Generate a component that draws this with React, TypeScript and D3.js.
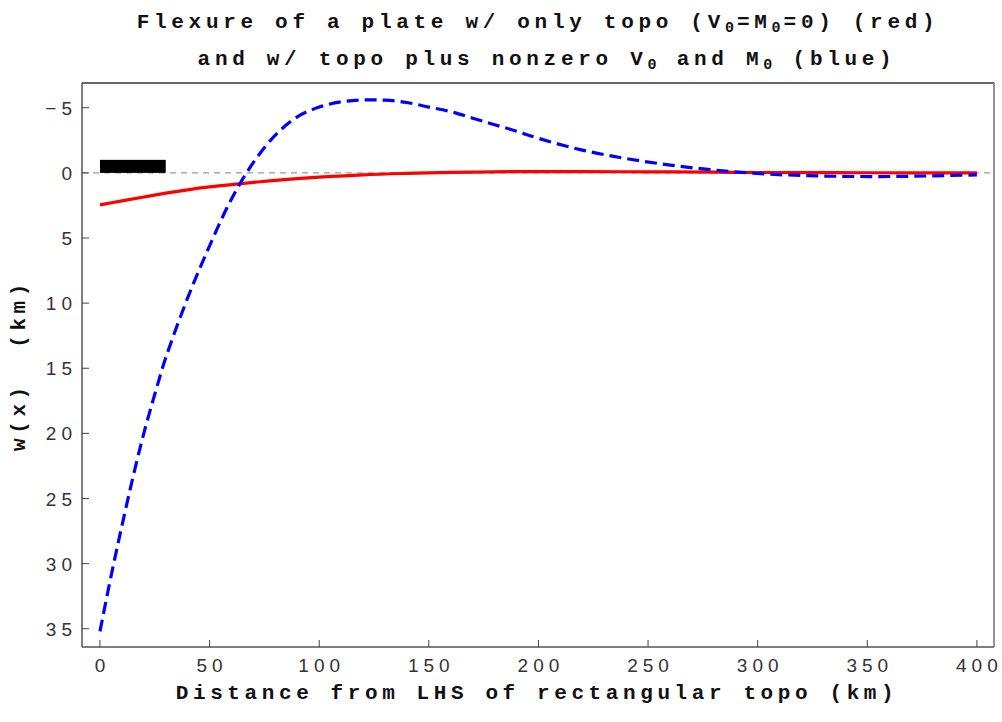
import React from 'react';
import * as d3 from 'd3';

// distance from LHS of the topo load (km)
const redX = [0, 10, 20, 30, 40, 50, 60, 70, 80, 90, 100, 120, 140, 160, 180, 200, 220, 250, 280, 300, 350, 400];
// flexure with topo only, V0 = M0 = 0 (km, positive = down)
const redW = [2.46, 2.15, 1.85, 1.56, 1.3, 1.08, 0.9, 0.73, 0.57, 0.44, 0.33, 0.15, 0.04, -0.04, -0.08, -0.1, -0.1, -0.08, -0.05, -0.03, -0.01, 0];

const blueX = [0, 5, 10, 15, 20, 25, 30, 40, 50, 60, 70, 80, 90, 100, 110, 120, 130, 140, 150, 160, 170, 180, 190, 200, 220, 240, 260, 280, 300, 320, 340, 360, 380, 400];
// flexure with topo plus nonzero V0 and M0
const blueW = [35.2, 31.0, 27.1, 23.4, 20.0, 17.0, 14.2, 9.6, 5.6, 2.0, -0.8, -2.9, -4.3, -5.05, -5.45, -5.6, -5.58, -5.4, -5.05, -4.7, -4.2, -3.7, -3.2, -2.65, -1.75, -1.1, -0.6, -0.22, 0.05, 0.2, 0.27, 0.28, 0.23, 0.15];

// rectangular topo block: x from 0 to 30 km, height 1 km
const topoX = [0, 30];
const topoH = [0, -1];

const xTicks = [0, 50, 100, 150, 200, 250, 300, 350, 400];
const yTicks = [-5, 0, 5, 10, 15, 20, 25, 30, 35];

const W = 1002;
const H = 722;
const left = 82, right = 994, top = 83, bottom = 647;

const labelFont = '"Liberation Mono", "DejaVu Sans Mono", monospace';
const tickFont = '"Liberation Sans", Arial, sans-serif';

export default function App() {
  const x = d3.scaleLinear().domain([-8.2, 407.8]).range([left, right]);
  const y = d3.scaleLinear().domain([-6.9, 36.4]).range([top, bottom]);

  const line = d3.line<[number, number]>()
    .x(d => x(d[0]))
    .y(d => y(d[1]))
    .curve(d3.curveCatmullRom.alpha(0.5));

  const redPath = line(redX.map((v, i) => [v, redW[i]] as [number, number])) || '';
  const bluePath = line(blueX.map((v, i) => [v, blueW[i]] as [number, number])) || '';

  const sub = (s: string) => (
    <tspan fontSize={15} dy={4} letterSpacing={3}>{s}</tspan>
  );

  return (
    <div style={{ position: 'fixed', left: 0, top: 0 }}>
      <svg width={W} height={H} style={{ display: 'block', background: '#fff' }}>
        {/* title */}
        <text x={538} y={28} textAnchor="middle" fontFamily={labelFont} fontWeight="bold"
          fontSize={21} letterSpacing={4.7} fill="#111" style={{ whiteSpace: 'pre' }}>
          Flexure of a plate w/ only topo (V{sub('0')}<tspan dy={-4}>=M</tspan>{sub('0')}<tspan dy={-4}>=0) (red)</tspan>
        </text>
        <text x={547} y={65} textAnchor="middle" fontFamily={labelFont} fontWeight="bold"
          fontSize={21} letterSpacing={4.7} fill="#111" style={{ whiteSpace: 'pre' }}>
          and w/ topo plus nonzero V{sub('0')}<tspan dy={-4}> and M</tspan>{sub('0')}<tspan dy={-4}> (blue)</tspan>
        </text>

        {/* zero reference line */}
        <line x1={left} x2={right} y1={y(0)} y2={y(0)} stroke="#999" strokeWidth={1.3} strokeDasharray="6,5" />

        {/* topo block */}
        <rect x={x(topoX[0])} y={y(topoH[1])} width={x(topoX[1]) - x(topoX[0])}
          height={y(topoH[0]) - y(topoH[1])} fill="#000" />

        {/* curves */}
        <path d={redPath} fill="none" stroke="#ff0000" strokeWidth={3.2} />
        <path d={bluePath} fill="none" stroke="#0000ff" strokeWidth={3.2} strokeDasharray="12,6" />

        {/* frame */}
        <line x1={left} x2={right} y1={top} y2={top} stroke="#333" strokeWidth={1.3} />
        <line x1={right} x2={right} y1={top} y2={bottom} stroke="#888" strokeWidth={1.8} />
        <line x1={left} x2={left} y1={top} y2={bottom} stroke="#555" strokeWidth={1.5} />
        <line x1={left} x2={right} y1={bottom} y2={bottom} stroke="#555" strokeWidth={1.5} />

        {/* y ticks */}
        {yTicks.map(t => (
          <g key={'y' + t}>
            <line x1={left} x2={left + 7} y1={y(t)} y2={y(t)} stroke="#444" strokeWidth={1} />
            <text x={left - 5} y={y(t) + 7} textAnchor="end" fontFamily={tickFont} fontSize={19}
              letterSpacing={5} fill="#333">
              {t < 0 ? '\u2212' + Math.abs(t) : String(t)}
            </text>
          </g>
        ))}

        {/* x ticks */}
        {xTicks.map(t => (
          <g key={'x' + t}>
            <line x1={x(t)} x2={x(t)} y1={bottom} y2={bottom - 7} stroke="#444" strokeWidth={1} />
            <text x={x(t) + 2.5} y={672} textAnchor="middle" fontFamily={tickFont} fontSize={19}
              letterSpacing={5} fill="#333">
              {String(t)}
            </text>
          </g>
        ))}

        {/* axis labels */}
        <text x={537} y={699} textAnchor="middle" fontFamily={labelFont} fontWeight="bold"
          fontSize={21} letterSpacing={4.6} fill="#111">
          Distance from LHS of rectangular topo (km)
        </text>
        <text transform={`translate(25, ${(top + bottom) / 2}) rotate(-90)`} textAnchor="middle"
          fontFamily={labelFont} fontWeight="bold" fontSize={21} letterSpacing={4.6} fill="#111"
          style={{ whiteSpace: 'pre' }}>
          {'w(x)  (km)'}
        </text>
      </svg>
    </div>
  );
}
